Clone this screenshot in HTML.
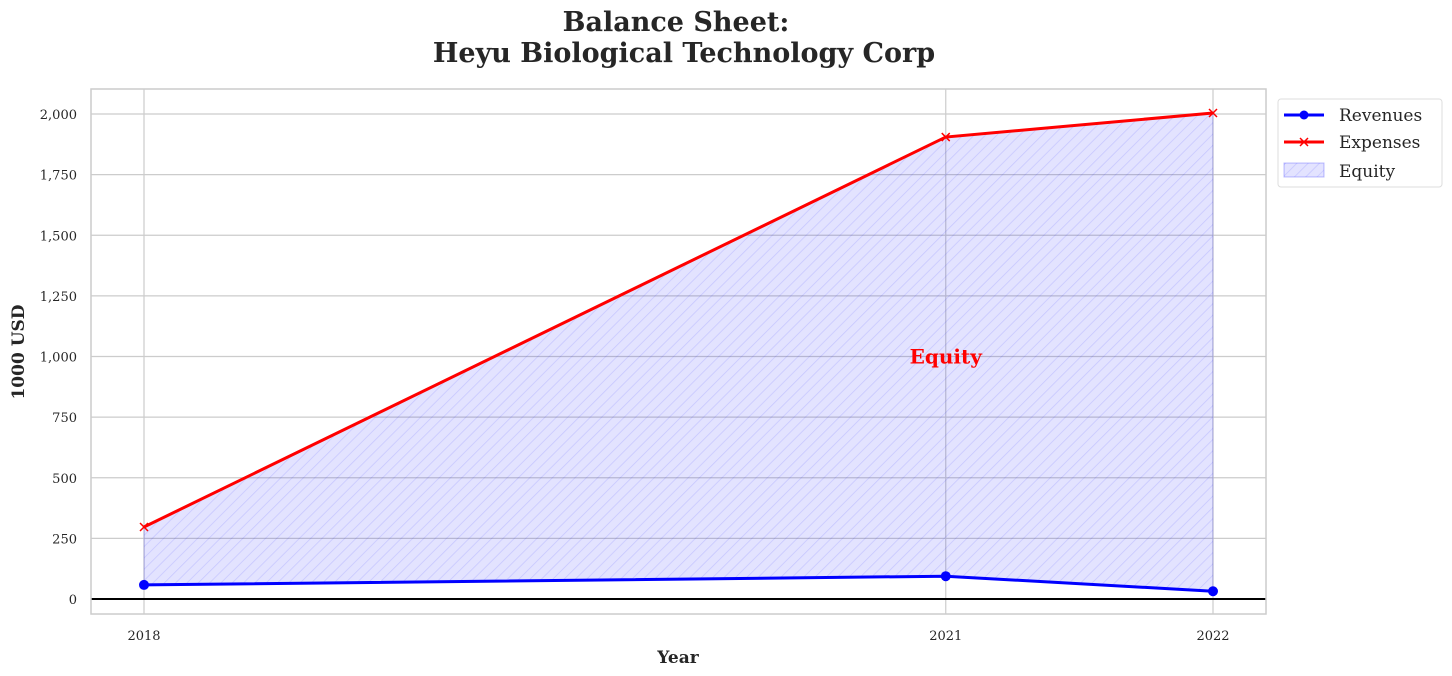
<!DOCTYPE html>
<html><head><meta charset="utf-8"><style>
body{margin:0;background:#fff;}
svg{display:block;font-family:"DejaVu Serif","Liberation Serif",serif;}
</style></head><body>
<svg id="chart" width="1452" height="676" xmlns="http://www.w3.org/2000/svg">
<defs>
<pattern id="hatch" width="8" height="8" patternUnits="userSpaceOnUse" patternTransform="rotate(45)">
<rect width="8" height="8" fill="rgba(0,0,255,0.11)"/>
<line x1="0" y1="0" x2="0" y2="8" stroke="rgba(0,0,255,0.13)" stroke-width="1.5"/>
</pattern>
</defs>
<text x="676" y="31" text-anchor="middle" font-size="27" font-weight="bold" fill="#262626">Balance Sheet:</text>
<text x="684" y="62" text-anchor="middle" font-size="27" font-weight="bold" fill="#262626">Heyu Biological Technology Corp</text>
<g id="grid"></g>
<g id="marks"></g>
<rect x="91" y="89" width="1175" height="525" fill="none" stroke="#ccc" stroke-width="1.5"/>
<g id="ticks"></g>
<text x="678" y="663" text-anchor="middle" font-size="17" font-weight="bold" fill="#262626">Year</text>
<text transform="translate(24,352) rotate(-90)" text-anchor="middle" font-size="17" font-weight="bold" fill="#262626">1000 USD</text>
<g>
<rect x="1278" y="99" width="164" height="88" rx="3" fill="#fff" stroke="#ddd"/>
<g>
<line x1="1284" y1="115" x2="1324" y2="115" stroke="#0000ff" stroke-width="3"/><circle cx="1304" cy="115" r="4.5" fill="#0000ff"/>
<text x="1339" y="121" font-size="17" fill="#262626">Revenues</text></g>
<g>
<line x1="1284" y1="142" x2="1324" y2="142" stroke="#ff0000" stroke-width="3"/>
<path d="M1300,138 l8,8 M1308,138 l-8,8" stroke="#ff0000" stroke-width="1.5"/>
<text x="1339" y="148" font-size="17" fill="#262626">Expenses</text></g>
<g>
<rect x="1284" y="163" width="40" height="14" fill="url(#hatch)" stroke="rgba(0,0,255,0.25)"/>
<text x="1339" y="177" font-size="17" fill="#262626">Equity</text></g>
</g>
</svg>
<script>
const years=[2018,2021,2022];
const revenues=[58,94,32];
const expenses=[297,1905,2004];
const yTicks=[0,250,500,750,1000,1250,1500,1750,2000];
const xTicks=[2018,2021,2022];
const equityLabel="Equity";
const NS="http://www.w3.org/2000/svg";
const X=v=>144+(v-2018)*(1213-144)/4;
const Y=v=>599-v*(599-114)/2000;
function mk(t,a,p){const e=document.createElementNS(NS,t);for(const k in a)e.setAttribute(k,a[k]);p.appendChild(e);return e;}
const grid=document.getElementById('grid'),marks=document.getElementById('marks'),ticks=document.getElementById('ticks');
yTicks.forEach(v=>{
const l=mk('line',{x1:91,x2:1266,y1:Y(v),y2:Y(v),stroke:'#cccccc','stroke-width':1.2},grid);


const t=mk('text',{x:77,y:Y(v)+5,'text-anchor':'end','font-size':13,fill:'#262626'},ticks);
t.textContent=v.toLocaleString('en-US');


});
xTicks.forEach(v=>{
const l=mk('line',{x1:X(v),x2:X(v),y1:89,y2:614,stroke:'#cccccc','stroke-width':1.2},grid);


const t=mk('text',{x:X(v),y:640,'text-anchor':'middle','font-size':13,fill:'#262626'},ticks);
t.textContent=v;


});
let d='';
years.forEach((y,i)=>{d+=(i?'L':'M')+X(y)+','+Y(expenses[i]);});
for(let i=years.length-1;i>=0;i--)d+='L'+X(years[i])+','+Y(revenues[i]);
const area=mk('path',{d:d+'Z',fill:'url(#hatch)',stroke:'rgba(0,0,255,0.15)'},marks);


const zl=mk('line',{x1:91,x2:1266,y1:Y(0),y2:Y(0),stroke:'#000','stroke-width':2},marks);


const rp=mk('polyline',{points:years.map((y,i)=>X(y)+','+Y(revenues[i])).join(' '),fill:'none',stroke:'#0000ff','stroke-width':3},marks);


const ep=mk('polyline',{points:years.map((y,i)=>X(y)+','+Y(expenses[i])).join(' '),fill:'none',stroke:'#ff0000','stroke-width':3},marks);


years.forEach((y,i)=>{
const c=mk('circle',{cx:X(y),cy:Y(revenues[i]),r:5,fill:'#0000ff'},marks);


const x=X(y),yy=Y(expenses[i]);
const m=mk('path',{d:`M${x-4},${yy-4}L${x+4},${yy+4}M${x+4},${yy-4}L${x-4},${yy+4}`,stroke:'#ff0000','stroke-width':1.5},marks);


});
const lbl=mk('text',{x:X(2021),y:Y(1000)+7,'text-anchor':'middle','font-size':20,'font-weight':'bold',fill:'#ff0000'},marks);
lbl.textContent=equityLabel;


</script>
</body></html>
